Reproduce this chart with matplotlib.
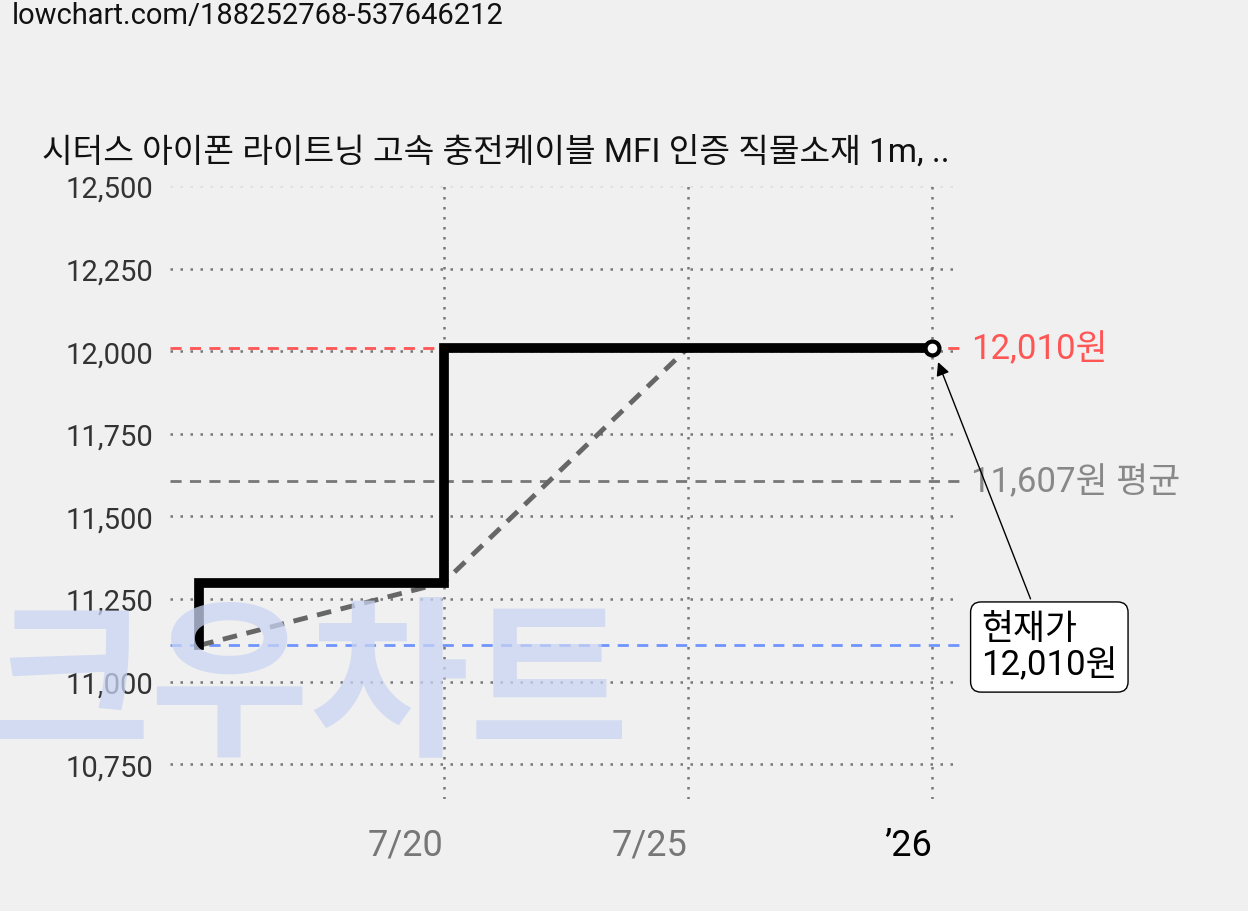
import matplotlib
matplotlib.use("Agg")
import matplotlib.pyplot as plt

plt.rcParams["font.family"] = ["Roboto", "Noto Sans CJK KR", "DejaVu Sans"]

# day of July
step_days = [15, 15, 20, 20, 30]
step_prices = [11110, 11300, 11300, 12010, 12010]
trend_days = [15, 20, 25, 30]
trend_prices = [11110, 11300, 12010, 12010]
current_price = 12010
avg_price = 11607
low_price = 11110
y_ticks = [10750, 11000, 11250, 11500, 11750, 12000, 12250, 12500]
x_ticks = [20, 25, 30]
x_labels = ["7/20", "7/25", "\u201926"]

fig = plt.figure(figsize=(12.48, 9.12), dpi=100, facecolor="#f0f0f0")
ax = fig.add_axes([170 / 1248, 1 - 800 / 912, 790 / 1248, (800 - 187) / 912])
ax.set_facecolor("#f0f0f0")
ax.set_xlim(14.4, 30.57)
ax.set_ylim(10645, 12500)

for v in y_ticks:
    ax.axhline(v, color="#dddddd" if v == 12500 else "#777777", ls=(0, (1, 3)), lw=1.8, zorder=1)
for d in x_ticks:
    ax.axvline(d, color="#777777", ls=(0, (1, 3)), lw=1.8, zorder=1)

fig.text(310 / 1248, 1 - 690 / 912, "크우차트", fontsize=125, fontweight="bold",
         color="#c8d4f2", alpha=0.75, ha="center", va="center", zorder=0,
         family=["Noto Sans CJK KR"])

kw = dict(lw=2, zorder=2, clip_on=False)
ax.plot([14.4, 30.7], [current_price] * 2, color="#ff5555", ls=(0, (4, 3)), **kw)
ax.plot([14.4, 30.7], [avg_price] * 2, color="#777777", ls=(0, (4, 3)), **kw)
ax.plot([14.4, 30.7], [low_price] * 2, color="#6f94ff", ls=(0, (4, 3)), **kw)

ax.plot(trend_days, trend_prices, color="#666666", lw=3.5, ls=(0, (3, 2)), zorder=3)
ax.plot(step_days, step_prices, color="black", lw=7, zorder=4, solid_joinstyle="miter")
ax.plot([30], [current_price], marker="o", ms=10, mfc="white", mec="black", mew=3, zorder=5)

ax.text(30.8, current_price, "12,010원", color="#ff5555", fontsize=25, va="center")
ax.text(30.8, avg_price, "11,607원 평균", color="#888888", fontsize=25, va="center")

ax.annotate("현재가\n12,010원", xy=(30.1, 11975), xytext=(31.0, 11000),
            fontsize=25, ha="left", va="bottom", annotation_clip=False, linespacing=1.1,
            bbox=dict(boxstyle="round,pad=0.3", fc="white", ec="black", lw=1),
            arrowprops=dict(arrowstyle="-|>", color="black", lw=1, mutation_scale=20))

ax.set_yticks(y_ticks)
ax.set_yticklabels([f"{v:,}" for v in y_ticks], fontsize=21, color="#333333")
ax.set_xticks(x_ticks)
ax.set_xticklabels(x_labels, fontsize=26, ha="right")
for lab, c in zip(ax.get_xticklabels(), ["#777777", "#777777", "black"]):
    lab.set_color(c)
ax.tick_params(length=0, pad=12)
ax.tick_params(axis="x", pad=20)
for s in ax.spines.values():
    s.set_visible(False)

fig.text(12 / 1248, 1 - 16 / 912, "lowchart.com/188252768-537646212", fontsize=21, va="center", color="#111111")
fig.text(42 / 1248, 1 - 152 / 912, "시터스 아이폰 라이트닝 고속 충전케이블 MFI 인증 직물소재 1m, ..",
         fontsize=24, va="center", color="#111111")

fig.savefig("out.png", dpi=100, facecolor=fig.get_facecolor())
